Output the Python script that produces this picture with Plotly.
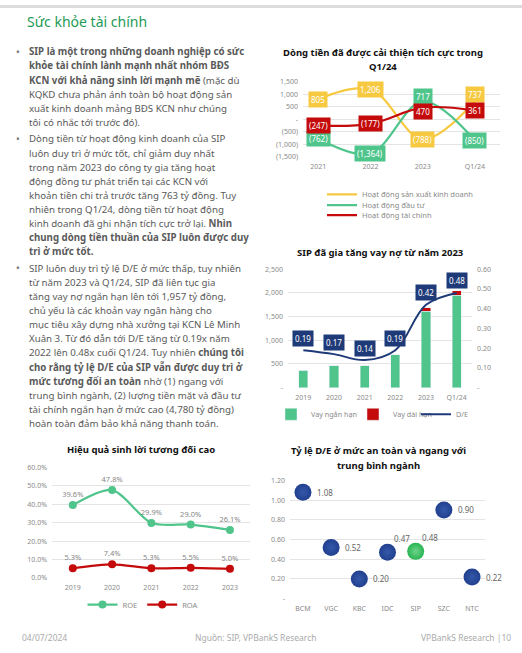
import plotly.graph_objects as go

W, H = 522, 653
def PX(p): return p / W
def PY(p): return 1 - p / H

FONT = "Noto Sans"
GRAY = "#8a8a8a"
GRID = "#e4e4e4"

# ---------------- data ----------------
cf_periods = ["2021", "2022", "2023", "Q1/24"]
cf_sxkd = [805, 1206, -788, 737]
cf_dautu = [-762, -1364, 717, -850]
cf_taichinh = [-247, -177, 470, 361]
cf_names = ["Hoạt động sản xuất kinh doanh", "Hoạt động đầu tư", "Hoạt động tài chính"]
cf_ticks = [1500, 1000, 500, 0, -500, -1000, -1500]
cf_ticktext = ["1,500", "1,000", "500", "-", "(500)", "(1,000)", "(1,500)"]

debt_periods = ["2019", "2020", "2021", "2022", "2023", "Q1/24"]
debt_short = [370, 460, 460, 700, 1610, 1957]
debt_long = [0, 0, 0, 0, 80, 95]
debt_de = [0.19, 0.17, 0.14, 0.19, 0.42, 0.48]
debt_lticks = [0, 500, 1000, 1500, 2000, 2500]
debt_lticktext = ["-", "500", "1,000", "1,500", "2,000", "2,500"]
debt_rticks = [0, 0.1, 0.2, 0.3, 0.4, 0.5, 0.6]
debt_rticktext = ["-", "0.10", "0.20", "0.30", "0.40", "0.50", "0.60"]

roe_years = ["2019", "2020", "2021", "2022", "2023"]
roe = [39.6, 47.8, 29.9, 29.0, 26.1]
roa = [5.3, 7.4, 5.3, 5.5, 5.0]

peers = ["BCM", "VGC", "KBC", "IDC", "SIP", "SZC", "NTC"]
peer_de = [1.08, 0.52, 0.20, 0.47, 0.48, 0.90, 0.22]
peer_ticks = [0, 0.2, 0.4, 0.6, 0.8, 1.0, 1.2]
peer_ticktext = ["-", "0.20", "0.40", "0.60", "0.80", "1.00", "1.20"]

# ---------------- colours ----------------
C_YEL = "#F7C940"
C_GRN = "#4FC58C"
C_RED = "#C40A0A"
C_NAVY = "#1F3A78"
C_BLUE = "#21408F"
C_SIP = "#27B552"

fig = go.Figure()
annotations = []

# ---------- Chart 1: cash flow ----------
cf_series = [(cf_sxkd, C_YEL, cf_names[0], "legend", {3: 6}),
             (cf_dautu, C_GRN, cf_names[1], "legend4", {2: 5}),
             (cf_taichinh, C_RED, cf_names[2], "legend5", {2: -4})]
for vals, col, name, lg, _ in cf_series:
    fig.add_trace(go.Scatter(x=cf_periods, y=vals, mode="lines", name=name,
                             line=dict(color=col, width=2.2, shape="spline", smoothing=1.0),
                             xaxis="x", yaxis="y", legend=lg))

def fmt_paren(v):
    return f"({abs(v):,})" if v < 0 else f"{v:,}"

for vals, col, _, _, shifts in cf_series:
    for i, v in enumerate(vals):
        annotations.append(dict(x=i, y=v, xref="x", yref="y", text=fmt_paren(v), showarrow=False,
                                yshift=shifts.get(i, 0),
                                bgcolor=col, borderpad=2, font=dict(family=FONT, size=8, color="white")))

# ---------- Chart 2: debt ----------
fig.add_trace(go.Bar(x=debt_periods, y=debt_short, name="Vay ngắn hạn", marker_color=C_GRN,
                     width=0.3, xaxis="x2", yaxis="y2", legend="legend2"))
fig.add_trace(go.Bar(x=debt_periods, y=debt_long, name="Vay dài hạn", marker_color=C_RED,
                     width=0.3, xaxis="x2", yaxis="y2", legend="legend6"))
fig.add_trace(go.Scatter(x=debt_periods, y=debt_de, mode="lines", name="D/E",
                         line=dict(color=C_NAVY, width=2, shape="spline", smoothing=1.0),
                         xaxis="x2", yaxis="y3", legend="legend7"))
for i, v in enumerate(debt_de):
    annotations.append(dict(x=i, y=v, xref="x2", yref="y3", text=f"{v:.2f}", showarrow=False, yshift=12,
                            bgcolor=C_NAVY, borderpad=2, font=dict(family=FONT, size=8, color="white")))

# ---------- Chart 3: ROE / ROA ----------
for vals, col, name in [(roe, C_GRN, "ROE"), (roa, C_RED, "ROA")]:
    fig.add_trace(go.Scatter(x=roe_years, y=vals, mode="lines+markers+text", name=name,
                             text=[f"{v:.1f}%" for v in vals], textposition="top center",
                             textfont=dict(family=FONT, size=7.5, color="#888"),
                             line=dict(color=col, width=2.2, shape="spline", smoothing=0.8),
                             marker=dict(size=8, color=col), xaxis="x4", yaxis="y4", legend="legend3"))

# ---------- Chart 4: peers D/E ----------
peer_colors = [C_SIP if p == "SIP" else C_BLUE for p in peers]
fig.add_trace(go.Scatter(x=peers, y=peer_de, mode="markers", showlegend=False,
                         marker=dict(size=17, color=peer_colors,
                                     gradient=dict(type="radial", color=["#6fd38a" if p == "SIP" else "#3558a8" for p in peers])),
                         xaxis="x5", yaxis="y5"))
for i, (p, v) in enumerate(zip(peers, peer_de)):
    if p in ("IDC", "SIP"):
        annotations.append(dict(x=i, y=v, xref="x5", yref="y5", text=f"{v:.2f}", showarrow=False,
                                xshift=14, yshift=14, font=dict(family=FONT, size=8, color="#666")))
    else:
        annotations.append(dict(x=i, y=v, xref="x5", yref="y5", text=f"{v:.2f}", showarrow=False,
                                xshift=22, font=dict(family=FONT, size=8, color="#666")))

# ---------------- text / titles ----------------
def ann(x, y, text, size=10, color="#555", xanchor="left", family=FONT):
    annotations.append(dict(x=PX(x), y=PY(y), xref="paper", yref="paper", text=text, showarrow=False,
                            xanchor=xanchor, yanchor="middle", font=dict(family=family, size=size, color=color)))

ann(25, 17, "Sức khỏe tài chính", size=14, color="#1E9A57")

para = [
    ["<b>SIP là một trong những doanh nghiệp có sức</b>",
     "<b>khỏe tài chính lành mạnh nhất nhóm BĐS</b>",
     "<b>KCN với khả năng sinh lời mạnh mẽ</b> (mặc dù",
     "KQKD chưa phản ánh toàn bộ hoạt động sản",
     "xuất kinh doanh mảng BĐS KCN như chúng",
     "tôi có nhắc tới trước đó)."],
    ["Dòng tiền từ hoạt động kinh doanh của SIP",
     "luôn duy trì ở mức tốt, chỉ giảm duy nhất",
     "trong năm 2023 do công ty gia tăng hoạt",
     "động đồng tư phát triển tại các KCN với",
     "khoản tiền chi trả trước tăng 763 tỷ đồng. Tuy",
     "nhiên trong Q1/24, dòng tiền từ hoạt động",
     "kinh doanh đã ghi nhận tích cực trở lại. <b>Nhìn</b>",
     "<b>chung dòng tiền thuần của SIP luôn được duy</b>",
     "<b>trì ở mức tốt.</b>"],
    ["SIP luôn duy trì tỷ lệ D/E ở mức thấp, tuy nhiên",
     "từ năm 2023 và Q1/24, SIP đã liên tục gia",
     "tăng vay nợ ngắn hạn lên tới 1,957 tỷ đồng,",
     "chủ yếu là các khoản vay ngân hàng cho",
     "mục tiêu xây dựng nhà xưởng tại KCN Lê Minh",
     "Xuân 3. Từ đó dẫn tới D/E tăng từ 0.19x năm",
     "2022 lên 0.48x cuối Q1/24. Tuy nhiên <b>chúng tôi</b>",
     "<b>cho rằng tỷ lệ D/E của SIP vẫn được duy trì ở</b>",
     "<b>mức tương đối an toàn</b> nhờ (1) ngang với",
     "trung bình ngành, (2) lượng tiền mặt và đầu tư",
     "tài chính ngắn hạn ở mức cao (4,780 tỷ đồng)",
     "hoàn toàn đảm bảo khả năng thanh toán."],
]
y = 47.5
for block in para:
    ann(14, y, "•", size=10, color="#777")
    for line in block:
        ann(27, y, line, size=9.7, color="#5a5a5a")
        y += 14.3
    y += 2.5

ann(383, 48, "<b>Dòng tiền đã được cải thiện tích cực trong</b>", size=9.5, color="#111", xanchor="center")
ann(383, 62, "<b>Q1/24</b>", size=9.5, color="#111", xanchor="center")
ann(380, 251, "<b>SIP đã gia tăng vay nợ từ năm 2023</b>", size=9.5, color="#111", xanchor="center")
ann(141, 451, "<b>Hiệu quả sinh lời tương đối cao</b>", size=9.5, color="#111", xanchor="center")
ann(378, 452, "<b>Tỷ lệ D/E ở mức an toàn và ngang với</b>", size=9.5, color="#111", xanchor="center")
ann(378, 467, "<b>trung bình ngành</b>", size=9.5, color="#111", xanchor="center")

ann(20, 641, "04/07/2024", size=8.5, color="#aaa")
ann(256, 641, "Nguồn: SIP, VPBankS Research", size=8.5, color="#aaa", xanchor="center")
ann(513, 641, "VPBankS Research |10", size=8.5, color="#aaa", xanchor="right")

tickfont = dict(family=FONT, size=7, color=GRAY)

def xax(d0, d1, rng, anchor):
    return dict(domain=[PX(d0), PX(d1)], range=rng, type="category", anchor=anchor,
                showgrid=False, showline=False, zeroline=False, ticks="", tickfont=tickfont,
                ticklabelstandoff=4)

def yax(d_top, d_bot, rng, tv, tt, anchor, side="left", grid=True, overlaying=None):
    a = dict(domain=[PY(d_bot), PY(d_top)], range=rng, tickvals=tv, ticktext=tt, anchor=anchor,
             showgrid=grid, gridcolor=GRID, gridwidth=1, zeroline=False, showline=False,
             ticks="", tickfont=tickfont, side=side, ticklabelstandoff=4)
    if overlaying:
        a["overlaying"] = overlaying
    return a

def legend_cfg(x, y, xanchor="left", orientation="v", size=7.5):
    return dict(x=PX(x), y=PY(y), xanchor=xanchor, yanchor="middle", orientation=orientation,
                font=dict(family=FONT, size=size, color=GRAY), itemwidth=30,
                bgcolor="rgba(0,0,0,0)", traceorder="normal", tracegroupgap=0)

fig.update_layout(
    width=W, height=H, margin=dict(l=0, r=0, t=0, b=0),
    paper_bgcolor="white", plot_bgcolor="rgba(0,0,0,0)",
    font=dict(family=FONT), barmode="stack",
    xaxis=xax(303, 500, [-0.29, 3.48], "y"),
    yaxis=yax(78, 154, [-1500, 1500], cf_ticks, cf_ticktext, "x"),
    xaxis2=xax(288, 472, [-0.5, 5.5], "y2"),
    yaxis2=yax(268, 388, [0, 2500], debt_lticks, debt_lticktext, "x2"),
    yaxis3=yax(268, 388, [0, 0.6], debt_rticks, debt_rticktext, "x2", side="right", grid=False, overlaying="y2"),
    xaxis4=xax(52, 250, [-0.53, 4.51], "y4"),
    yaxis4=yax(469, 581, [0, 60], [0, 10, 20, 30, 40, 50, 60],
               ["0.0%", "10.0%", "20.0%", "30.0%", "40.0%", "50.0%", "60.0%"], "x4"),
    xaxis5=xax(290, 485, [-0.46, 6.46], "y5"),
    yaxis5=yax(482, 602, [0, 1.2], peer_ticks, peer_ticktext, "x5"),
    legend=legend_cfg(322, 192),
    legend4=legend_cfg(322, 203),
    legend5=legend_cfg(322, 213),
    legend2=legend_cfg(271, 415, size=7.2),
    legend6=legend_cfg(353, 415, size=7.2),
    legend7=legend_cfg(416, 415, size=7.2),
    legend3=legend_cfg(143, 608, xanchor="center", orientation="h"),
    annotations=annotations,
    shapes=[dict(type="rect", xref="paper", yref="paper", x0=0, x1=1, y0=PY(3), y1=1,
                 fillcolor="#dcdcdc", line_width=0)],
)

fig.write_html("out.html", config={"displayModeBar": False},
               post_script="document.body.style.margin='0';document.body.style.overflow='hidden';")
